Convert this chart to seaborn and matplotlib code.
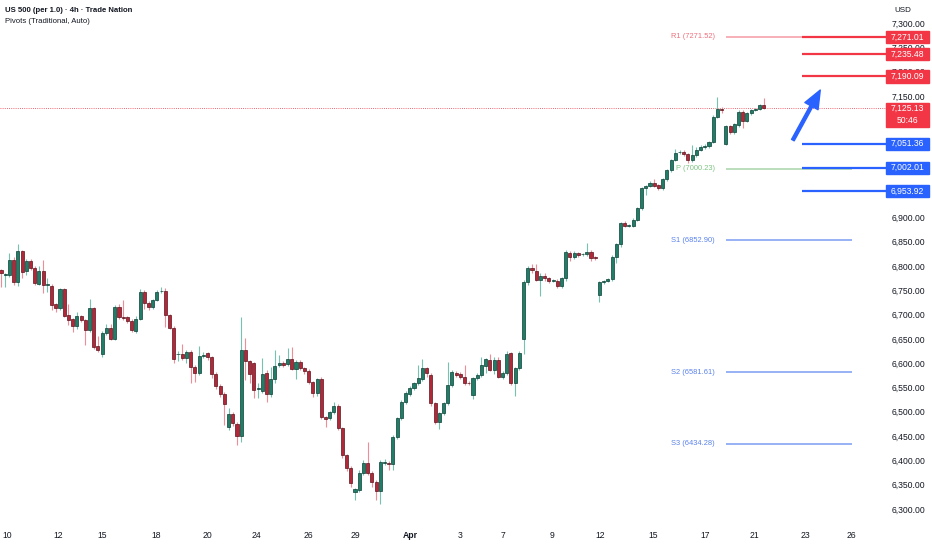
import numpy as np
import pandas as pd
import seaborn as sns
import matplotlib.pyplot as plt
import matplotlib.transforms as mtransforms
from matplotlib.patches import Rectangle

# 4h candles, US 500 (index = bar number)
opens = [6792, 6781, 6781, 6812, 6767, 6831, 6790, 6810, 6795, 6763,
         6790, 6760, 6759, 6721, 6714, 6752, 6699, 6690, 6677, 6697,
         6688, 6668, 6714, 6635, 6619, 6663, 6672, 6650, 6716, 6694,
         6695, 6687, 6667, 6691, 6746, 6724, 6716, 6730, 6748, 6749,
         6699, 6673, 6618, 6619, 6611, 6622, 6593, 6579, 6615, 6620,
         6612, 6578, 6553, 6537, 6468, 6495, 6475, 6450, 6627, 6604,
         6600, 6546, 6543, 6580, 6536, 6567, 6596, 6600, 6598, 6608,
         6588, 6602, 6590, 6584, 6561, 6538, 6567, 6489, 6487, 6499,
         6512, 6466, 6411, 6384, 6335, 6339, 6374, 6395, 6374, 6355,
         6337, 6395, 6394, 6392, 6448, 6487, 6519, 6537, 6548, 6559,
         6567, 6590, 6576, 6518, 6479, 6497, 6518, 6555, 6580, 6578,
         6571, 6560, 6534, 6569, 6576, 6594, 6607, 6586, 6607, 6572,
         6580, 6620, 6560, 6589, 6649, 6767, 6795, 6790, 6772, 6780,
         6775, 6770, 6770, 6759, 6775, 6827, 6819, 6826, 6824, 6824,
         6829, 6818, 6740, 6766, 6769, 6773, 6819, 6845, 6888, 6883,
         6883, 6895, 6919, 6960, 6964, 6970, 6966, 6960, 6978, 6997,
         7018, 7034, 7035, 7030, 7018, 7028, 7039, 7044, 7046, 7055,
         7107, 7124, 7051, 7087, 7075, 7090, 7117, 7099, 7114, 7121,
         7122, 7131]
highs = [6794, 6786, 6826, 6819, 6845, 6833, 6814, 6814, 6799, 6799,
         6812, 6775, 6762, 6724, 6755, 6755, 6722, 6692, 6706, 6700,
         6691, 6731, 6716, 6656, 6666, 6680, 6680, 6720, 6722, 6729,
         6698, 6690, 6696, 6753, 6750, 6728, 6733, 6751, 6757, 6755,
         6702, 6676, 6624, 6639, 6628, 6627, 6596, 6635, 6622, 6622,
         6615, 6581, 6558, 6540, 6508, 6500, 6478, 6695, 6652, 6606,
         6602, 6560, 6610, 6585, 6592, 6627, 6617, 6605, 6631, 6633,
         6606, 6606, 6593, 6587, 6563, 6570, 6572, 6492, 6502, 6520,
         6515, 6468, 6414, 6388, 6343, 6380, 6400, 6437, 6378, 6360,
         6400, 6402, 6398, 6452, 6490, 6525, 6542, 6552, 6562, 6596,
         6608, 6593, 6579, 6520, 6500, 6521, 6602, 6585, 6583, 6581,
         6596, 6563, 6572, 6580, 6613, 6611, 6619, 6612, 6612, 6584,
         6625, 6622, 6592, 6625, 6772, 6800, 6805, 6805, 6785, 6785,
         6778, 6774, 6773, 6778, 6832, 6830, 6830, 6828, 6826, 6847,
         6832, 6820, 6769, 6772, 6776, 6822, 6848, 6891, 6892, 6886,
         6898, 6922, 6962, 6967, 6974, 6978, 6968, 6981, 7000, 7021,
         7040, 7039, 7038, 7033, 7049, 7044, 7048, 7050, 7058, 7110,
         7147, 7127, 7090, 7090, 7095, 7120, 7120, 7117, 7124, 7126,
         7134, 7145]
lows = [6756, 6757, 6778, 6761, 6759, 6775, 6781, 6792, 6761, 6760,
        6744, 6747, 6709, 6706, 6710, 6694, 6678, 6665, 6670, 6684,
        6637, 6665, 6630, 6622, 6613, 6658, 6648, 6648, 6690, 6689,
        6682, 6664, 6661, 6688, 6712, 6710, 6712, 6727, 6745, 6675,
        6670, 6600, 6604, 6606, 6600, 6559, 6562, 6575, 6610, 6606,
        6570, 6546, 6530, 6473, 6462, 6470, 6431, 6438, 6565, 6559,
        6528, 6528, 6538, 6520, 6530, 6560, 6592, 6592, 6595, 6585,
        6567, 6585, 6578, 6557, 6530, 6533, 6485, 6468, 6483, 6495,
        6462, 6405, 6378, 6345, 6318, 6335, 6370, 6370, 6345, 6318,
        6310, 6390, 6380, 6380, 6444, 6483, 6515, 6533, 6545, 6555,
        6563, 6572, 6512, 6475, 6464, 6494, 6514, 6550, 6572, 6567,
        6556, 6555, 6526, 6565, 6572, 6580, 6583, 6578, 6569, 6568,
        6575, 6555, 6532, 6585, 6618, 6760, 6785, 6768, 6738, 6768,
        6765, 6766, 6755, 6755, 6770, 6810, 6815, 6818, 6820, 6820,
        6810, 6813, 6726, 6762, 6766, 6770, 6807, 6840, 6880, 6880,
        6880, 6892, 6915, 6946, 6962, 6962, 6956, 6956, 6975, 6994,
        7015, 7031, 7027, 7012, 7014, 7025, 7036, 7041, 7043, 7052,
        7104, 7114, 7048, 7072, 7072, 7086, 7084, 7096, 7111, 7119,
        7120, 7122]
closes = [6785, 6784, 6812, 6766, 6831, 6788, 6810, 6795, 6764, 6790,
          6761, 6762, 6720, 6714, 6752, 6698, 6689, 6676, 6697, 6688,
          6668, 6714, 6633, 6626, 6663, 6672, 6650, 6716, 6694, 6692,
          6687, 6668, 6691, 6746, 6724, 6716, 6730, 6747, 6749, 6699,
          6673, 6608, 6619, 6611, 6622, 6593, 6579, 6615, 6617, 6612,
          6578, 6553, 6537, 6516, 6495, 6477, 6450, 6627, 6604, 6578,
          6545, 6548, 6578, 6536, 6567, 6594, 6600, 6597, 6608, 6588,
          6602, 6590, 6584, 6561, 6538, 6567, 6489, 6485, 6499, 6512,
          6466, 6411, 6384, 6353, 6341, 6374, 6395, 6374, 6355, 6337,
          6397, 6396, 6392, 6448, 6487, 6521, 6538, 6548, 6559, 6569,
          6590, 6580, 6518, 6479, 6497, 6518, 6555, 6582, 6576, 6571,
          6559, 6559, 6569, 6576, 6596, 6608, 6586, 6607, 6572, 6580,
          6619, 6560, 6589, 6620, 6767, 6795, 6792, 6772, 6779, 6775,
          6770, 6771, 6759, 6775, 6829, 6819, 6827, 6823, 6825, 6829,
          6816, 6817, 6766, 6769, 6773, 6819, 6845, 6888, 6883, 6884,
          6895, 6919, 6960, 6964, 6971, 6965, 6960, 6978, 6997, 7018,
          7033, 7035, 7030, 7018, 7028, 7039, 7045, 7047, 7055, 7107,
          7124, 7121, 7087, 7075, 7092, 7117, 7099, 7114, 7121, 7123,
          7131, 7125.13]

# time axis labels and the bar they sit on
date_labels = ['10', '12', '15', '18', '20', '24', '26', '29', 'Apr',
               '3', '7', '9', '12', '15', '17', '21', '23', '26']
date_pos = [1.4, 13.5, 24.0, 36.8, 48.9, 60.7, 72.9, 84.0, 97.1,
            108.9, 119.1, 130.8, 142.1, 154.7, 167.1, 178.7, 190.8, 201.7]

# price scale labels (the ones under the level boxes are not visible)
price_ticks = [6300, 6350, 6400, 6450, 6500, 6550, 6600, 6650, 6700, 6750,
               6800, 6850, 6900, 7150, 7200, 7250, 7300]

# weekly pivots (Traditional)
pivot_names = ['R1', 'P', 'S1', 'S2', 'S3']
pivot_values = [7271.52, 7000.23, 6852.90, 6581.61, 6434.28]
pivot_start, pivot_end = 172, 202

# drawn levels
resistance_levels = [7271.01, 7235.48, 7190.09]
support_levels = [7051.36, 7002.01, 6953.92]
level_start = 190

last_price = 7125.13
countdown = '50:46'
arrow_tail = (187.9, 7059)
arrow_head = (194.4, 7162)

GREEN = '#1f7d68'
RED = '#b32839'
LINE_RED = '#f23645'
LINE_BLUE = '#2962ff'
TEXT = '#131722'

sns.set_theme(style='white')
plt.rcParams['font.family'] = ['Liberation Sans', 'DejaVu Sans']

df = pd.DataFrame({'open': opens, 'high': highs, 'low': lows, 'close': closes})
df['bar'] = np.arange(len(df))
df['up'] = df['close'] >= df['open']

fig = plt.figure(figsize=(9.32, 5.5), dpi=100)
ax = fig.add_axes([0, 27 / 550, 886 / 932, 523 / 550])

# wicks then bodies
wick_col = np.where(df['up'], '#74c3b1', '#ee8d98')
ax.vlines(df['bar'], df['low'], df['high'], colors=wick_col, linewidth=0.8, zorder=2)
body_low = np.minimum(df['open'], df['close'])
body_h = np.maximum((df['close'] - df['open']).abs(), 1.0)
ax.bar(df['bar'], body_h, bottom=body_low, width=0.72,
       color=np.where(df['up'], GREEN, RED),
       edgecolor=np.where(df['up'], '#0d3f35', '#5a141d'),
       linewidth=0.5, zorder=3)

ax.set_xlim(-0.24, 210)
ax.set_ylim(6271, 7347.3)

# last price dotted line
ax.axhline(last_price, color=LINE_RED, lw=0.6, ls=(0, (1, 1.6)), zorder=1)

# pivots
pivot_line_cols = ['#f59aa3', '#a8d5aa', '#7a9cf2', '#7a9cf2', '#7a9cf2']
pivot_text_cols = ['#ee6f7c', '#7cc483', '#5a82ee', '#5a82ee', '#5a82ee']
for name, val, lc, tc in zip(pivot_names, pivot_values, pivot_line_cols, pivot_text_cols):
    ax.hlines(val, pivot_start, pivot_end, color=lc, lw=1.1, zorder=1)
    ax.annotate(f'{name} ({val:.2f})', xy=(pivot_start, val), xytext=(-8, 0),
                textcoords='offset points', ha='right', va='center',
                fontsize=5.4, color=tc)

# drawn levels + price-scale boxes
trans = mtransforms.blended_transform_factory(ax.transAxes, ax.transData)
box_w = 43 / 886
box_h = 25.3
for levels, col in [(resistance_levels, LINE_RED), (support_levels, LINE_BLUE)]:
    ax.hlines(levels, level_start, 210, color=col, lw=1.6, zorder=4)
    for lv in levels:
        ax.add_patch(Rectangle((1.0, lv - box_h / 2), box_w, box_h, transform=trans,
                               color=col, clip_on=False, zorder=5))
        ax.text(1.0 + box_w / 2, lv, f'{lv:,.2f}', transform=trans, ha='center',
                va='center', fontsize=6.2, color='white', zorder=6, clip_on=False)

ax.add_patch(Rectangle((1.0, 7086.6), box_w, 49.4, transform=trans,
                       color=LINE_RED, clip_on=False, zorder=5))
ax.text(1.0 + box_w / 2, 7123.5, f'{last_price:,.2f}', transform=trans, ha='center',
        va='center', fontsize=6.2, color='white', zorder=6, clip_on=False)
ax.text(1.0 + box_w / 2, 7100, countdown, transform=trans, ha='center',
        va='center', fontsize=6.2, color='white', zorder=6, clip_on=False)

# arrow
ax.annotate('', xy=arrow_head, xytext=arrow_tail,
            arrowprops=dict(arrowstyle='simple,head_length=1.1,head_width=0.9,tail_width=0.18',
                            color=LINE_BLUE, mutation_scale=12, shrinkA=0, shrinkB=0),
            zorder=4)

# axes
ax.yaxis.tick_right()
ax.set_yticks(price_ticks)
ax.set_yticklabels([f'{v:,.2f}' for v in price_ticks])
ax.tick_params(axis='y', length=0, pad=4.3, labelsize=6.2, labelcolor=TEXT)
ax.set_xticks(date_pos)
ax.set_xticklabels(date_labels)
ax.tick_params(axis='x', length=0, pad=6, labelsize=6.2, labelcolor=TEXT)
for lab in ax.get_xticklabels():
    if lab.get_text() == 'Apr':
        lab.set_fontweight('bold')
sns.despine(ax=ax, left=True, bottom=True, right=True, top=True)
ax.grid(False)

fig.text(5 / 932, 1 - 10 / 550, 'US 500 (per 1.0) · 4h · Trade Nation', fontsize=5.6,
         fontweight='bold', va='center', color=TEXT)
fig.text(5 / 932, 1 - 21.7 / 550, 'Pivots (Traditional, Auto)', fontsize=5.6,
         va='center', color=TEXT)
fig.text(894 / 932, 1 - 11 / 550, 'USD', fontsize=5.8, va='center', color=TEXT)

fig.savefig('out.png', dpi=100, facecolor='white')
